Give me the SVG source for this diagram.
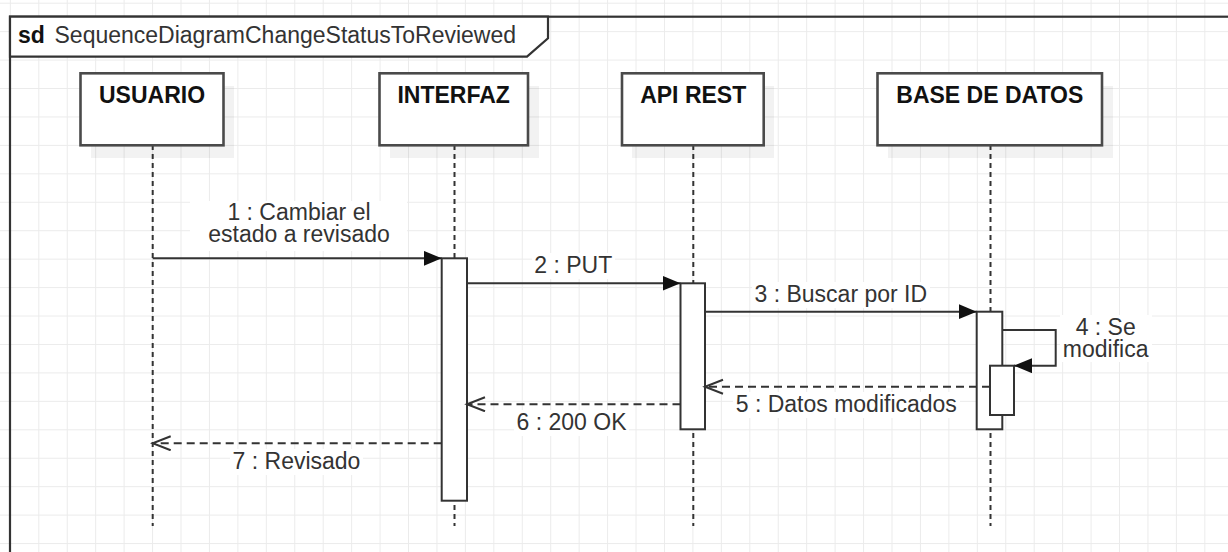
<svg xmlns="http://www.w3.org/2000/svg" width="1228" height="552" viewBox="0 0 1228 552">
  <style>
    text { font-family: "Liberation Sans", Arial, sans-serif; }
    .lbl { font-size: 23px; fill: #333333; text-anchor: middle; }
    .title { font-size: 23px; font-weight: bold; fill: #111111; text-anchor: middle; }
    .box { fill: #ffffff; stroke: #4a4a4a; stroke-width: 2.6; }
    .shadow { fill: #000000; opacity: 0.05; }
    .bar { fill: #ffffff; stroke: #333333; stroke-width: 2; }
    .life { fill: none; stroke: #333333; stroke-width: 2; stroke-dasharray: 5 4; }
    .msg { fill: none; stroke: #333333; stroke-width: 2; }
    .ret { fill: none; stroke: #333333; stroke-width: 2; stroke-dasharray: 8 5; }
    .lblbg { fill: #ffffff; }
  </style>
  <defs>
    <pattern id="grid" x="9.86" y="2.7" width="28.44" height="28.44" patternUnits="userSpaceOnUse">
      <path d="M0,0 L28.44,0 M0,0 L0,28.44" fill="none" stroke="#ebebeb" stroke-width="2"/>
    </pattern>
    <marker id="block" markerUnits="userSpaceOnUse" markerWidth="19" markerHeight="16" refX="18" refY="7.5" orient="auto">
      <path d="M0,0 L18,7.5 L0,15 z" fill="#111111"/>
    </marker>
    <marker id="open" markerUnits="userSpaceOnUse" markerWidth="22" markerHeight="18" refX="19" refY="8" orient="auto">
      <path d="M1,1 L19,8 L1,15" fill="none" stroke="#333333" stroke-width="2"/>
    </marker>
  </defs>

  <rect x="0" y="0" width="1228" height="552" fill="#ffffff"/>
  <rect x="0" y="0" width="1228" height="552" fill="url(#grid)"/>

  <g id="frame">
    <rect x="10" y="16.7" width="1300" height="600" fill="none" stroke="#333333" stroke-width="2.2"/>
    <path d="M10,16.7 L548,16.7 L548,38.3 L527,56.7 L10,56.7 Z" fill="#ffffff" stroke="#333333" stroke-width="2.2"/>
    <text x="18" y="43.3" style="font-size:23px;font-weight:bold;fill:#111111">sd</text>
    <text x="54.5" y="43.3" style="font-size:23px;fill:#333333">SequenceDiagramChangeStatusToReviewed</text>
  </g>

  <g id="lifelines">
    <line class="life" x1="152.7" y1="145" x2="152.7" y2="526"/>
    <line class="life" x1="454.5" y1="145" x2="454.5" y2="526"/>
    <line class="life" x1="693.3" y1="145" x2="693.3" y2="526"/>
    <line class="life" x1="990.5" y1="145" x2="990.5" y2="526"/>
  </g>

  <g id="usuario">
    <rect class="shadow" x="91" y="86" width="143" height="72"/>
    <rect class="box" x="80.5" y="73.3" width="143" height="72"/>
    <text class="title" x="152" y="103.3">USUARIO</text>
  </g>
  <g id="interfaz">
    <rect class="shadow" x="390" y="86" width="149" height="72"/>
    <rect class="box" x="379.5" y="73.3" width="148.5" height="72"/>
    <text class="title" x="453.7" y="103.3">INTERFAZ</text>
  </g>
  <g id="api-rest">
    <rect class="shadow" x="632" y="86" width="142" height="72"/>
    <rect class="box" x="622" y="73.3" width="141.7" height="72"/>
    <text class="title" x="693.2" y="103.3">API REST</text>
  </g>
  <g id="base-de-datos">
    <rect class="shadow" x="888" y="86" width="225" height="72"/>
    <rect class="box" x="877.5" y="73.3" width="224.5" height="72"/>
    <text class="title" x="989.8" y="103.3">BASE DE DATOS</text>
  </g>

  <g id="activations">
    <rect id="bar-interfaz" class="bar" x="441.7" y="258.3" width="25.3" height="242.4"/>
    <rect id="bar-api" class="bar" x="680.5" y="283.3" width="24.5" height="146"/>
    <rect id="bar-db" class="bar" x="976.7" y="311.7" width="25.6" height="117.6"/>
    <rect id="bar-db-nested" class="bar" x="990" y="365.7" width="24" height="49.3"/>
  </g>

  <g id="connectors">
    <line class="msg" x1="152.7" y1="258.3" x2="441.7" y2="258.3" marker-end="url(#block)"/>
    <line class="msg" x1="467" y1="283.3" x2="680.5" y2="283.3" marker-end="url(#block)"/>
    <line class="msg" x1="705" y1="311.7" x2="976.7" y2="311.7" marker-end="url(#block)"/>
    <path class="msg" d="M1002.3,330 L1055.7,330 L1055.7,365.7 L1014,365.7" marker-end="url(#block)"/>
    <line class="ret" x1="990" y1="386.7" x2="705" y2="386.7" marker-end="url(#open)"/>
    <line class="ret" x1="680.5" y1="404.3" x2="467" y2="404.3" marker-end="url(#open)"/>
    <line class="ret" x1="441.7" y1="443.3" x2="152.7" y2="443.3" marker-end="url(#open)"/>
  </g>

  <g id="labels">
    <rect class="lblbg" x="190" y="201" width="217" height="50"/>
    <text class="lbl" x="299" y="220"><tspan x="299" y="220">1 : Cambiar el</tspan><tspan x="299" y="242">estado a revisado</tspan></text>

    <rect class="lblbg" x="532" y="253" width="83" height="26"/>
    <text class="lbl" x="573.3" y="273.3">2 : PUT</text>

    <rect class="lblbg" x="752" y="282" width="178" height="26"/>
    <text class="lbl" x="840.8" y="301.7">3 : Buscar por ID</text>

    <rect class="lblbg" x="1060" y="315" width="92" height="47"/>
    <text class="lbl" x="1105.7" y="335"><tspan x="1105.7" y="335">4 : Se</tspan><tspan x="1105.7" y="356.7">modifica</tspan></text>

    <rect class="lblbg" x="733" y="392" width="227" height="26"/>
    <text class="lbl" x="846.3" y="411.7">5 : Datos modificados</text>

    <rect class="lblbg" x="514" y="410" width="115" height="26"/>
    <text class="lbl" x="571.5" y="430">6 : 200 OK</text>

    <rect class="lblbg" x="230" y="449" width="133" height="26"/>
    <text class="lbl" x="296.5" y="469.3">7 : Revisado</text>
  </g>
</svg>
